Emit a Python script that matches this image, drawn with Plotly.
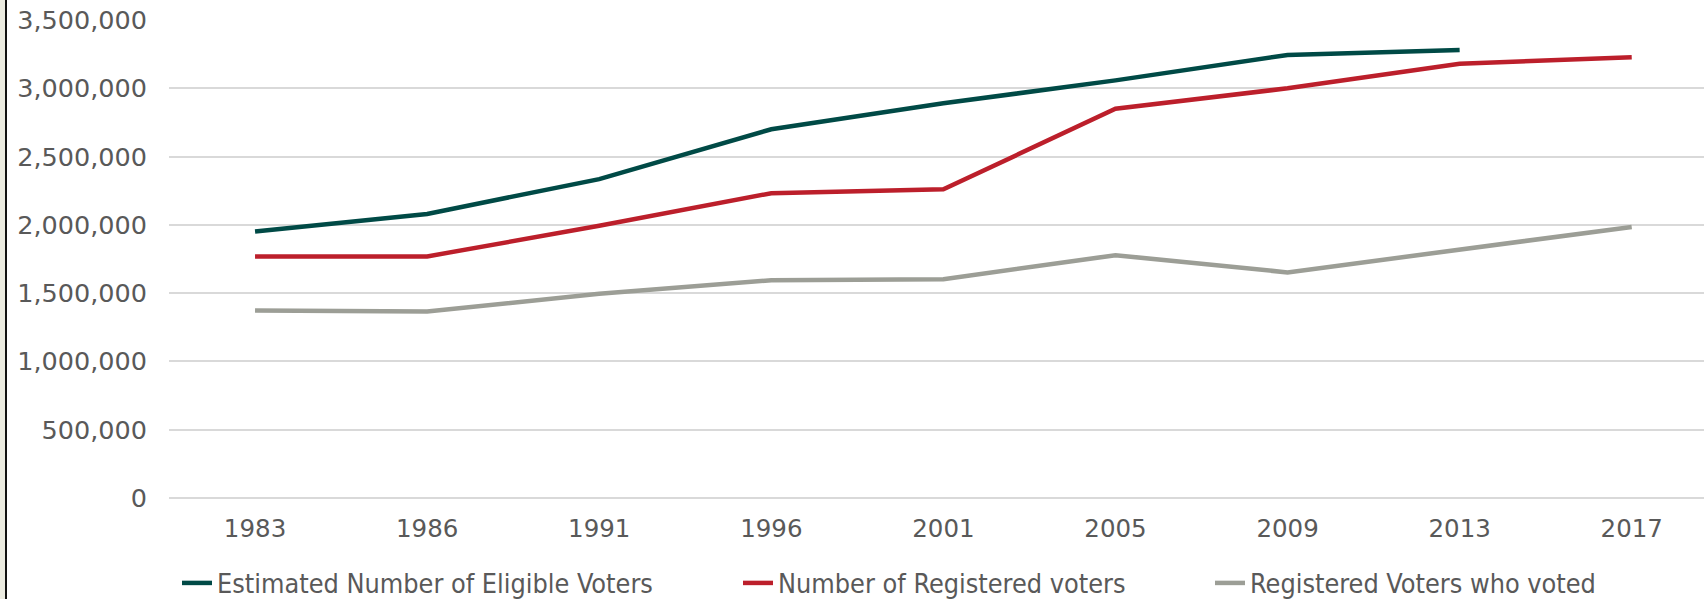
import plotly.graph_objects as go

# election years (category axis)
years = ["1983", "1986", "1991", "1996", "2001", "2005", "2009", "2013", "2017"]

eligible_voters = [1952000, 2080000, 2335000, 2700000, 2890000, 3058000, 3244000, 3280000, None]
registered_voters = [1768000, 1769000, 1993000, 2232000, 2260000, 2850000, 3000000, 3180000, 3228000]
voted = [1372000, 1366000, 1495000, 1595000, 1602000, 1778000, 1652000, 1818000, 1985000]

series_names = [
    "Estimated Number of Eligible Voters",
    "Number of Registered voters",
    "Registered Voters who voted",
]
series_colors = ["#004A46", "#BC1F2B", "#9C9E96"]

FONT = "DejaVu Sans"
TICK_COLOR = "#595959"
GRID_COLOR = "#D9D9D9"

W, H = 1704, 599
# plot area in pixels (left margin 169, width 1535, top 20, height 478)
PW, PH = 1535, 478

fig = go.Figure()

legend_keys = ["legend", "legend2", "legend3"]
for name, vals, color, lg in zip(series_names, [eligible_voters, registered_voters, voted], series_colors, legend_keys):
    fig.add_trace(
        go.Scatter(
            x=years,
            y=vals,
            name=name,
            mode="lines",
            line=dict(color=color, width=4.5),
            legend=lg,
            hovertemplate=f"{name}: %{{y:,}}<extra></extra>",
        )
    )

legend_font = dict(family="DejaVu Sans Condensed, " + FONT, size=26.8, color=TICK_COLOR)
legend_common = dict(
    orientation="h",
    xref="container",
    yref="container",
    yanchor="middle",
    y=(H - 583) / H,
    xanchor="left",
    font=legend_font,
    bgcolor="rgba(0,0,0,0)",
    borderwidth=0,
)

fig.update_layout(
    width=W,
    height=H,
    paper_bgcolor="white",
    plot_bgcolor="white",
    margin=dict(l=169, r=0, t=20, b=101, autoexpand=False),
    font=dict(family=FONT, color=TICK_COLOR),
    showlegend=True,
    legend=dict(x=177 / W, **legend_common),
    legend2=dict(x=738 / W, **legend_common),
    legend3=dict(x=1210 / W, **legend_common),
    xaxis=dict(
        type="category",
        range=[-0.5, 8.42],
        showgrid=False,
        showline=False,
        zeroline=False,
        ticks="",
        automargin=False,
        ticklabelstandoff=13,
        tickfont=dict(family=FONT, size=24.5, color=TICK_COLOR),
    ),
    yaxis=dict(
        range=[0, 3500000],
        dtick=500000,
        tickformat=",d",
        showgrid=True,
        gridcolor=GRID_COLOR,
        gridwidth=1.5,
        zeroline=True,
        zerolinecolor=GRID_COLOR,
        zerolinewidth=1.5,
        showline=False,
        ticks="",
        automargin=False,
        ticklabelstandoff=21,
        tickfont=dict(family=FONT, size=25.5, color=TICK_COLOR),
    ),
    shapes=[
        # left page border strip
        dict(type="rect", xref="paper", yref="paper", x0=-169 / PW, x1=-164 / PW,
             y0=-101 / PH, y1=(PH + 20) / PH, fillcolor="#EBEBE0", line=dict(width=0)),
        dict(type="rect", xref="paper", yref="paper", x0=-164 / PW, x1=-162 / PW,
             y0=-101 / PH, y1=(PH + 20) / PH, fillcolor="#111111", line=dict(width=0)),
    ],
)

# drop the default page margin so the 1704x599 figure fills the window exactly
fig.write_html(
    "out.html",
    config={"displayModeBar": False},
    post_script="document.body.style.margin='0';",
)
